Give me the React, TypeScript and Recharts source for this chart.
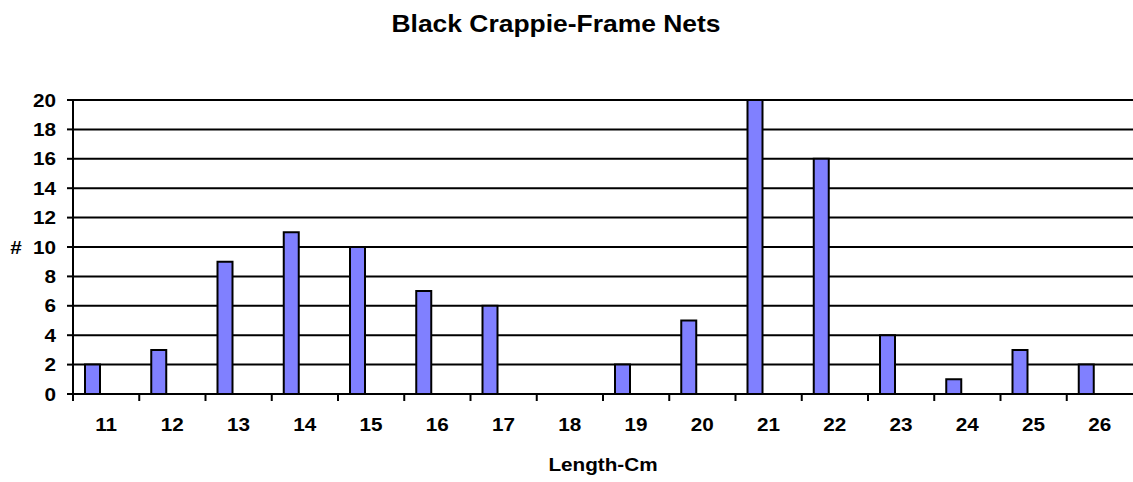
import { BarChart, Bar, XAxis, YAxis, CartesianGrid } from 'recharts';

const lengths = ['11', '12', '13', '14', '15', '16', '17', '18', '19', '20', '21', '22', '23', '24', '25', '26'];
const counts = [2, 3, 9, 11, 10, 7, 6, 0, 2, 5, 20, 16, 4, 1, 3, 2];
const yTicks = [0, 2, 4, 6, 8, 10, 12, 14, 16, 18, 20];

const data = lengths.map((len, i) => ({ len, count: counts[i] }));

const FONT = '"Liberation Sans", Arial, sans-serif';
const STRETCH = 1.15;

function XTick(props: any) {
  const { x, y, payload } = props;
  const half = payload.offset ?? 33.125;
  return (
    <g>
      <line x1={x - half} y1={y} x2={x - half} y2={y + 7} stroke="#000" strokeWidth={2} />
      <text
        transform={`translate(${x},${y + 37}) scale(${STRETCH},1)`}
        textAnchor="middle"
        fontFamily={FONT}
        fontWeight="bold"
        fontSize={18}
        fill="#000"
      >
        {payload.value}
      </text>
    </g>
  );
}

function YTick(props: any) {
  const { y, payload } = props;
  return (
    <text
      transform={`translate(56,${y + 6.5}) scale(${STRETCH},1)`}
      textAnchor="end"
      fontFamily={FONT}
      fontWeight="bold"
      fontSize={18}
      fill="#000"
    >
      {payload.value}
    </text>
  );
}

export default function App() {
  return (
    <div style={{ position: 'absolute', left: 0, top: 0, width: 1133, height: 482, background: '#fff' }}>
      <BarChart
        width={1133}
        height={482}
        data={data}
        margin={{ top: 100, right: 0, left: 0, bottom: 48 }}
        barSize={15}
        barGap={12}
      >
        <CartesianGrid horizontal vertical={false} stroke="#000" strokeWidth={2} />
        <XAxis
          dataKey="len"
          height={40}
          axisLine={{ stroke: '#000', strokeWidth: 2 }}
          tickLine={false}
          tickSize={0}
          tickMargin={0}
          interval={0}
          tick={<XTick />}
        />
        <YAxis
          width={73}
          domain={[0, 20]}
          ticks={yTicks}
          interval={0}
          axisLine={{ stroke: '#000', strokeWidth: 2 }}
          tickLine={{ stroke: '#000', strokeWidth: 2 }}
          tickSize={6}
          tick={<YTick />}
        />
        <Bar dataKey="count" fill="#8080FF" stroke="#000" strokeWidth={2} isAnimationActive={false} />
        <Bar dataKey="empty" fill="none" isAnimationActive={false} />
      </BarChart>
      <svg
        width={1133}
        height={482}
        style={{ position: 'absolute', left: 0, top: 0, pointerEvents: 'none' }}
        fontFamily={FONT}
        fontWeight="bold"
      >
        <text transform={`translate(556,32) scale(${STRETCH},1)`} textAnchor="middle" fontSize={23} fill="#000">
          Black Crappie-Frame Nets
        </text>
        <text transform={`translate(16,254) scale(${STRETCH},1)`} textAnchor="middle" fontSize={18} fill="#000">
          #
        </text>
        <text transform={`translate(603,471) scale(${STRETCH},1)`} textAnchor="middle" fontSize={18} fill="#000">
          Length-Cm
        </text>
      </svg>
    </div>
  );
}
